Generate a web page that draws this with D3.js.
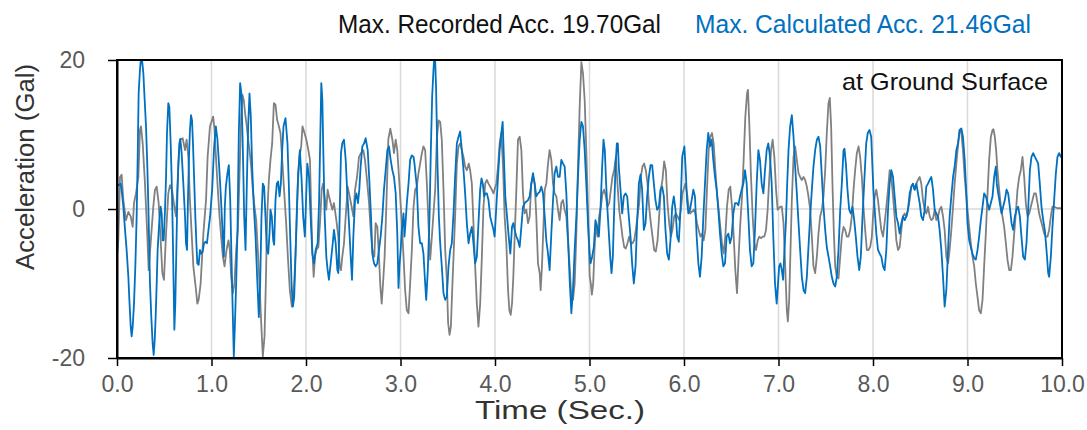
<!DOCTYPE html>
<html>
<head>
<meta charset="utf-8">
<script src="https://cdn.jsdelivr.net/npm/d3@7"></script>
<style>
  html, body { margin: 0; padding: 0; background: #fff; }
  svg { display: block; }
</style>
</head>
<body>
<div id="chart"></div>
<script>
// [time (s), acceleration (Gal)]
const recordedAcc = [
  [0.000,-6.4],[0.014,-4.2],[0.032,4.3],[0.049,4.6],[0.067,1.2],[0.095,-1.5],[0.120,-0.4],[0.145,-1.0],[0.166,-2.4],[0.180,0.8],[0.201,2.1],[0.226,4.3],[0.243,10.6],[0.254,11.1],[0.272,8.8],[0.296,3.4],[0.321,-3.7],[0.335,-8.2],[0.356,-4.6],[0.384,0.3],[0.402,2.6],[0.420,3.0],[0.441,0.8],[0.462,-4.2],[0.480,-8.6],[0.497,-9.5],[0.519,-3.3],[0.543,2.1],[0.561,3.2],[0.582,2.6],[0.607,0.3],[0.624,-1.0],[0.649,5.7],[0.667,9.3],[0.695,9.5],[0.720,7.9],[0.737,9.3],[0.755,7.0],[0.772,1.2],[0.790,-3.3],[0.808,-7.7],[0.836,-10.9],[0.850,-12.7],[0.864,-12.2],[0.885,-10.0],[0.914,-3.3],[0.942,1.2],[0.959,7.0],[0.984,11.1],
  [1.018,12.4],[1.032,10.6],[1.049,6.6],[1.067,2.6],[1.085,-1.0],[1.102,-3.7],[1.120,-6.4],[1.138,-7.7],[1.159,-5.5],[1.180,-4.2],[1.194,-5.5],[1.208,-9.1],[1.226,-11.3],[1.243,-10.0],[1.261,-5.5],[1.279,-2.8],[1.296,4.3],[1.314,12.4],[1.328,15.3],[1.342,14.6],[1.356,12.8],[1.370,11.5],[1.384,9.7],[1.402,7.9],[1.420,5.7],[1.437,2.6],[1.455,0.3],[1.473,-1.5],[1.490,-5.5],[1.508,-10.0],[1.526,-15.3],[1.543,-19.8],[1.561,-17.1],[1.575,-10.0],[1.589,-1.0],[1.607,3.9],[1.624,6.6],[1.642,8.8],[1.660,14.2],[1.677,14.0],[1.695,11.9],[1.709,11.3],[1.730,10.2],[1.751,6.1],[1.772,1.7],[1.790,-1.9],[1.808,-6.4],[1.829,-10.9],[1.850,-13.1],[1.864,-12.7],[1.878,-9.1],[1.896,-3.7],[1.914,3.4],[1.931,7.0],[1.949,8.4],[1.963,11.1],[1.984,10.2],
  [2.004,9.3],[2.025,7.9],[2.042,6.6],[2.053,0.8],[2.067,-5.5],[2.081,-9.1],[2.095,-6.4],[2.109,-5.5],[2.131,-5.1],[2.148,-1.9],[2.166,2.6],[2.180,3.4],[2.201,1.2],[2.215,-0.1],[2.229,2.6],[2.243,1.7],[2.261,0.8],[2.279,-0.1],[2.296,0.8],[2.321,-1.5],[2.342,-3.7],[2.356,-7.7],[2.370,-8.2],[2.384,-6.4],[2.402,-4.6],[2.420,-1.0],[2.441,3.0],[2.462,1.7],[2.483,0.3],[2.501,-1.0],[2.519,2.6],[2.540,4.3],[2.561,7.0],[2.582,7.5],[2.607,7.9],[2.624,6.6],[2.649,3.4],[2.667,0.8],[2.684,-2.8],[2.702,-5.5],[2.723,-6.4],[2.737,-1.9],[2.755,-2.4],[2.772,-6.4],[2.787,-10.4],[2.801,-12.7],[2.815,-10.0],[2.832,-6.4],[2.850,0.3],[2.871,9.3],[2.892,10.8],[2.914,9.3],[2.931,7.5],[2.949,9.3],[2.966,7.9],[2.984,4.3],
  [3.014,-1.9],[3.032,-6.4],[3.049,-10.9],[3.067,-13.6],[3.085,-14.0],[3.102,-10.0],[3.120,-5.5],[3.138,0.3],[3.155,2.6],[3.173,3.0],[3.190,4.8],[3.208,6.1],[3.226,7.5],[3.243,8.4],[3.261,7.9],[3.279,3.4],[3.296,-1.9],[3.314,-6.8],[3.332,-3.7],[3.349,-0.6],[3.367,2.6],[3.384,9.3],[3.402,11.9],[3.420,11.7],[3.437,9.3],[3.455,2.6],[3.473,-5.5],[3.490,-9.5],[3.504,-15.3],[3.519,-16.9],[3.533,-15.8],[3.547,-10.9],[3.561,-6.4],[3.578,-1.0],[3.596,6.1],[3.614,8.4],[3.631,8.8],[3.649,7.9],[3.667,7.0],[3.684,5.7],[3.702,5.2],[3.723,6.1],[3.737,5.2],[3.755,3.4],[3.772,-1.9],[3.790,-7.7],[3.808,-12.7],[3.825,-15.8],[3.843,-12.7],[3.861,-6.4],[3.878,0.3],[3.896,3.4],[3.914,3.9],[3.931,3.4],[3.949,3.0],[3.966,2.6],[3.984,2.1],
  [4.014,3.4],[4.032,5.7],[4.049,8.8],[4.067,10.2],[4.085,5.7],[4.102,-1.0],[4.120,-4.6],[4.138,-10.9],[4.152,-13.6],[4.166,-14.2],[4.180,-12.7],[4.194,-9.1],[4.208,-3.7],[4.226,2.6],[4.243,9.3],[4.261,9.7],[4.279,7.9],[4.296,2.1],[4.314,-0.6],[4.332,-0.1],[4.349,-1.9],[4.367,-1.0],[4.384,3.4],[4.402,4.3],[4.420,3.4],[4.437,-1.0],[4.455,-7.3],[4.473,-8.6],[4.483,-10.9],[4.497,-7.7],[4.511,-2.8],[4.526,2.6],[4.543,3.4],[4.561,6.1],[4.578,7.9],[4.596,6.6],[4.614,3.4],[4.631,2.1],[4.649,1.7],[4.667,-0.1],[4.684,-1.5],[4.702,0.8],[4.720,1.2],[4.737,-0.1],[4.755,-1.0],[4.772,-4.2],[4.790,-7.7],[4.808,-11.8],[4.825,-12.2],[4.843,-10.0],[4.861,-3.3],[4.878,5.7],[4.896,13.7],[4.914,19.7],[4.931,18.2],[4.949,14.6],[4.966,7.9],[4.984,-0.1],
  [5.002,-9.1],[5.014,-10.0],[5.025,-11.5],[5.039,-10.0],[5.053,-5.5],[5.067,-1.9],[5.085,-3.7],[5.102,-1.0],[5.120,0.3],[5.138,2.1],[5.155,2.6],[5.173,1.7],[5.190,0.3],[5.208,0.8],[5.226,2.6],[5.243,4.3],[5.261,5.2],[5.279,7.0],[5.296,3.4],[5.314,-0.1],[5.332,-1.9],[5.349,-3.7],[5.367,-5.1],[5.384,-5.3],[5.402,-4.6],[5.420,-3.7],[5.437,-4.6],[5.455,-4.6],[5.473,-4.2],[5.490,-2.8],[5.508,-1.0],[5.526,0.8],[5.543,4.3],[5.561,5.7],[5.578,6.1],[5.596,5.2],[5.614,3.4],[5.631,0.3],[5.649,-1.9],[5.667,-3.7],[5.684,-5.5],[5.702,-5.7],[5.720,-4.2],[5.737,-1.0],[5.755,2.6],[5.772,3.9],[5.790,6.4],[5.808,5.2],[5.825,0.8],[5.843,-1.9],[5.861,-3.7],[5.878,-2.8],[5.896,-1.0],[5.914,-0.6],[5.931,-1.0],[5.949,-1.5],[5.966,-0.1],[5.984,2.1],
  [6.014,3.4],[6.032,2.1],[6.049,0.3],[6.067,-0.6],[6.102,-0.1],[6.120,-0.6],[6.138,-1.9],[6.155,-2.8],[6.173,-3.7],[6.190,-3.3],[6.208,-4.2],[6.226,-2.8],[6.243,2.6],[6.261,7.9],[6.279,9.7],[6.296,10.2],[6.314,8.8],[6.332,5.2],[6.349,2.1],[6.367,-0.1],[6.384,-2.4],[6.402,-4.6],[6.420,-6.0],[6.437,-3.7],[6.455,0.3],[6.473,2.6],[6.490,3.0],[6.508,0.3],[6.526,-3.7],[6.543,-8.2],[6.561,-11.3],[6.578,-6.4],[6.596,-1.9],[6.614,1.7],[6.631,6.6],[6.649,12.4],[6.667,15.5],[6.677,16.0],[6.691,11.5],[6.709,4.3],[6.727,-1.0],[6.744,-4.6],[6.762,-5.5],[6.780,-4.2],[6.797,-3.7],[6.815,-3.9],[6.832,-3.7],[6.850,-3.7],[6.868,-2.8],[6.885,-0.1],[6.903,4.3],[6.921,7.9],[6.938,9.3],[6.956,7.0],[6.974,2.6],[6.991,-0.1],
  [7.018,0.3],[7.035,0.3],[7.053,-1.9],[7.071,-7.7],[7.088,-13.6],[7.099,-15.1],[7.113,-12.2],[7.127,-5.5],[7.141,1.2],[7.159,7.0],[7.176,8.4],[7.194,6.6],[7.212,4.8],[7.229,4.3],[7.247,3.9],[7.265,4.3],[7.282,3.9],[7.300,3.0],[7.317,1.7],[7.335,-0.1],[7.353,-3.7],[7.370,-7.7],[7.388,-8.6],[7.406,-6.4],[7.423,-3.3],[7.441,-1.0],[7.459,-0.1],[7.476,1.7],[7.494,5.2],[7.511,10.2],[7.529,14.2],[7.543,14.9],[7.557,11.1],[7.571,3.4],[7.586,-3.3],[7.600,-7.7],[7.617,-9.1],[7.635,-9.3],[7.653,-6.4],[7.670,-3.7],[7.688,-2.4],[7.705,-2.8],[7.723,-3.7],[7.741,-3.7],[7.758,-2.8],[7.776,-1.0],[7.794,2.6],[7.811,5.2],[7.829,7.5],[7.847,8.4],[7.864,7.0],[7.882,4.3],[7.899,0.3],[7.917,-2.8],[7.935,-5.5],[7.952,-5.5],[7.970,-5.1],[7.988,-3.7],
  [8.000,-1.0],[8.018,1.7],[8.035,2.6],[8.053,1.2],[8.071,-1.0],[8.088,-2.8],[8.106,-3.7],[8.123,-1.9],[8.141,0.3],[8.159,2.6],[8.176,5.2],[8.194,4.3],[8.212,1.7],[8.229,-1.0],[8.247,-4.2],[8.265,-5.5],[8.282,-5.1],[8.300,-2.8],[8.317,-1.0],[8.335,-0.6],[8.353,-1.0],[8.370,-0.1],[8.388,1.2],[8.406,3.0],[8.423,3.4],[8.441,2.6],[8.459,3.4],[8.476,3.9],[8.494,4.3],[8.511,3.4],[8.529,1.2],[8.547,-0.1],[8.564,-0.6],[8.582,0.3],[8.600,-1.0],[8.617,-1.5],[8.635,-1.3],[8.653,-0.1],[8.670,-1.5],[8.688,-1.0],[8.705,-0.1],[8.723,0.3],[8.741,-1.0],[8.758,-2.8],[8.776,-6.4],[8.794,-7.3],[8.811,-5.5],[8.829,-2.8],[8.847,0.3],[8.864,3.4],[8.882,6.1],[8.899,8.4],[8.917,10.6],[8.935,10.2],[8.952,7.9],[8.970,4.3],[8.988,1.7],
  [9.000,-0.1],[9.018,-2.4],[9.035,-4.6],[9.053,-6.4],[9.071,-7.7],[9.088,-10.0],[9.106,-11.8],[9.123,-13.6],[9.141,-14.0],[9.159,-12.2],[9.176,-7.7],[9.194,-3.3],[9.212,2.1],[9.229,6.6],[9.247,9.7],[9.265,10.6],[9.275,10.7],[9.289,9.7],[9.303,7.9],[9.317,5.2],[9.335,2.6],[9.353,0.3],[9.370,-1.0],[9.388,-2.4],[9.406,-4.6],[9.423,-6.8],[9.441,-8.2],[9.459,-8.2],[9.476,-6.4],[9.494,-3.3],[9.511,-0.6],[9.529,2.6],[9.547,4.3],[9.564,5.2],[9.582,7.0],[9.600,4.3],[9.617,0.8],[9.635,-1.0],[9.653,-0.6],[9.670,0.3],[9.688,1.2],[9.705,2.1],[9.723,2.1],[9.741,0.8],[9.758,-0.6],[9.776,-1.5],[9.794,-2.4],[9.811,-3.3],[9.829,-3.7],[9.847,-3.7],[9.864,-2.8],[9.882,-1.0],[9.899,0.3],[9.917,0.3],[9.952,0.1],[10.000,0.1]
];

const calculatedAcc = [
  [0.000,3.4],[0.021,3.2],[0.039,3.4],[0.053,2.1],[0.067,0.3],[0.085,-2.8],[0.102,-5.5],[0.120,-9.1],[0.131,-12.2],[0.145,-15.8],[0.155,-17.1],[0.166,-15.8],[0.180,-12.7],[0.194,-7.7],[0.208,-1.0],[0.219,7.0],[0.229,15.5],[0.243,18.7],[0.258,20.9],[0.279,18.2],[0.293,14.6],[0.307,11.1],[0.321,5.7],[0.332,0.3],[0.349,-10.0],[0.363,-14.5],[0.377,-18.0],[0.388,-19.6],[0.399,-17.6],[0.409,-14.5],[0.420,-10.0],[0.430,-5.5],[0.444,-2.4],[0.455,-0.6],[0.462,0.3],[0.473,-0.6],[0.483,-4.2],[0.494,-4.2],[0.508,-0.1],[0.519,4.3],[0.529,10.2],[0.543,14.2],[0.554,13.7],[0.568,8.8],[0.578,4.3],[0.589,-2.4],[0.600,-10.9],[0.607,-16.2],[0.617,-12.7],[0.628,-5.5],[0.638,1.2],[0.649,6.1],[0.660,8.8],[0.670,9.4],[0.684,7.5],[0.702,3.4],[0.720,-1.0],[0.730,-4.6],[0.741,-5.5],[0.751,1.2],[0.762,7.0],[0.772,10.6],[0.783,12.6],[0.794,11.9],[0.804,8.8],[0.818,3.4],[0.829,-1.0],[0.840,-4.6],[0.850,-7.3],[0.864,-7.5],[0.878,-5.5],[0.892,-6.0],[0.907,-5.7],[0.921,-4.6],[0.938,-4.4],[0.952,-4.6],[0.966,-3.0],[0.985,-1.0],
  [1.007,2.6],[1.028,8.4],[1.046,11.1],[1.063,9.3],[1.081,5.7],[1.099,1.7],[1.116,-2.8],[1.131,-6.4],[1.141,0.3],[1.152,3.0],[1.169,4.8],[1.183,5.9],[1.198,1.2],[1.212,-6.8],[1.226,-14.5],[1.236,-19.8],[1.247,-15.8],[1.261,-10.0],[1.275,-2.8],[1.289,10.2],[1.303,16.9],[1.317,15.5],[1.332,7.9],[1.346,-1.0],[1.360,-5.5],[1.374,3.4],[1.388,11.1],[1.402,15.5],[1.416,12.4],[1.430,5.7],[1.448,0.3],[1.466,-3.7],[1.483,-9.1],[1.501,-14.5],[1.515,-10.0],[1.529,-1.0],[1.543,3.4],[1.557,3.0],[1.571,-1.0],[1.586,-5.5],[1.600,-6.0],[1.614,-3.3],[1.624,-0.1],[1.638,-1.0],[1.653,-4.2],[1.663,-4.8],[1.677,1.2],[1.691,3.4],[1.705,3.7],[1.720,1.7],[1.734,3.4],[1.748,7.9],[1.762,11.1],[1.783,12.2],[1.804,8.8],[1.818,3.4],[1.832,-3.3],[1.847,-10.0],[1.861,-13.1],[1.875,-11.8],[1.889,-6.4],[1.903,-0.1],[1.917,4.8],[1.935,7.9],[1.952,4.3],[1.970,-1.0],[1.988,-3.7],
  [2.000,1.0],[2.014,6.1],[2.032,4.3],[2.049,-1.0],[2.067,-6.0],[2.085,-7.3],[2.102,-5.5],[2.123,-4.6],[2.138,0.8],[2.152,10.2],[2.162,16.9],[2.173,14.6],[2.183,7.9],[2.198,-1.0],[2.215,-6.4],[2.229,-8.2],[2.243,-9.5],[2.261,-7.3],[2.279,-5.1],[2.296,-2.8],[2.314,-4.6],[2.332,-8.2],[2.342,-8.6],[2.356,-1.0],[2.370,7.5],[2.384,8.8],[2.402,9.3],[2.420,6.6],[2.437,2.1],[2.455,-1.9],[2.473,-6.4],[2.487,-9.5],[2.501,-3.7],[2.519,1.2],[2.533,2.1],[2.550,0.8],[2.564,2.6],[2.578,5.7],[2.596,8.4],[2.614,8.8],[2.631,9.5],[2.653,7.9],[2.670,3.9],[2.688,-1.0],[2.702,-6.0],[2.720,-7.3],[2.737,-7.7],[2.755,-7.3],[2.772,-5.5],[2.790,-3.7],[2.808,-1.0],[2.825,2.6],[2.843,5.2],[2.861,7.9],[2.878,8.4],[2.896,6.6],[2.914,5.2],[2.931,4.3],[2.949,2.1],[2.966,-3.3],[2.979,-10.6],[2.989,-7.7],
  [3.004,-5.1],[3.014,-2.8],[3.032,-0.6],[3.042,-3.7],[3.053,-1.9],[3.067,0.8],[3.085,3.4],[3.102,6.6],[3.120,7.2],[3.138,7.0],[3.148,6.1],[3.162,4.3],[3.173,3.0],[3.190,-2.4],[3.208,-4.6],[3.226,-4.6],[3.243,-6.0],[3.261,-10.0],[3.272,-12.2],[3.289,-8.2],[3.307,-1.0],[3.321,7.9],[3.335,15.1],[3.349,18.7],[3.363,21.46],[3.377,16.0],[3.392,5.7],[3.406,-1.0],[3.420,-4.6],[3.437,-7.7],[3.455,-11.3],[3.473,-12.2],[3.490,-11.8],[3.508,-7.7],[3.526,-5.5],[3.543,-4.6],[3.561,-0.6],[3.578,4.3],[3.596,8.8],[3.614,9.7],[3.631,10.4],[3.649,7.9],[3.667,5.2],[3.684,2.1],[3.702,-1.9],[3.720,-4.6],[3.737,-3.3],[3.755,-2.4],[3.772,-4.6],[3.790,-7.3],[3.808,-6.4],[3.825,-1.9],[3.843,2.6],[3.857,4.1],[3.871,3.4],[3.885,1.7],[3.899,2.1],[3.914,2.1],[3.931,1.2],[3.949,-1.0],[3.966,-1.9],[3.984,-2.8],[3.996,-3.7],
  [4.014,0.3],[4.032,4.3],[4.049,7.9],[4.067,10.2],[4.081,11.7],[4.095,6.6],[4.109,1.7],[4.127,-1.0],[4.145,-3.7],[4.162,-6.0],[4.180,-2.4],[4.194,-1.9],[4.208,-2.8],[4.226,-3.7],[4.243,-4.2],[4.261,-5.1],[4.279,-2.4],[4.296,0.3],[4.314,0.8],[4.332,1.0],[4.349,1.2],[4.367,1.7],[4.384,3.4],[4.402,4.8],[4.420,3.4],[4.437,1.7],[4.455,2.1],[4.473,2.3],[4.490,3.0],[4.508,2.1],[4.526,-1.0],[4.543,-4.2],[4.561,-6.0],[4.578,-8.2],[4.596,-3.3],[4.614,1.2],[4.631,4.8],[4.649,5.7],[4.667,4.3],[4.684,4.3],[4.702,6.6],[4.720,6.1],[4.737,5.7],[4.755,2.1],[4.772,-3.7],[4.790,-9.5],[4.808,-14.0],[4.825,-10.9],[4.843,-5.5],[4.861,-1.0],[4.878,4.3],[4.896,9.3],[4.914,11.7],[4.931,11.1],[4.949,7.9],[4.966,3.4],[4.984,-1.9],
  [5.002,-6.0],[5.011,-7.3],[5.028,-6.4],[5.046,-5.1],[5.063,-1.5],[5.081,-2.4],[5.099,-3.7],[5.116,-0.1],[5.134,5.7],[5.148,9.3],[5.162,7.9],[5.176,3.4],[5.190,-0.1],[5.205,-3.3],[5.219,-6.4],[5.233,-8.6],[5.247,-6.4],[5.261,-0.1],[5.275,5.7],[5.289,8.8],[5.300,8.8],[5.310,5.7],[5.328,2.6],[5.346,-0.6],[5.363,1.7],[5.381,2.1],[5.399,1.7],[5.416,-1.0],[5.434,-3.7],[5.451,-7.3],[5.469,-10.0],[5.487,-7.7],[5.504,-1.9],[5.522,3.4],[5.540,4.6],[5.557,2.6],[5.575,-2.8],[5.593,-1.9],[5.610,1.7],[5.628,4.3],[5.646,5.9],[5.663,5.9],[5.681,3.4],[5.698,1.2],[5.716,-0.1],[5.734,0.3],[5.751,2.6],[5.769,3.0],[5.787,1.7],[5.804,-2.8],[5.822,-6.0],[5.840,-6.8],[5.857,-4.2],[5.875,0.3],[5.892,1.7],[5.910,-0.1],[5.928,-3.7],[5.945,-4.4],[5.963,-0.1],[5.981,7.0],
  [6.004,8.4],[6.018,5.2],[6.032,1.2],[6.046,-0.6],[6.063,-0.1],[6.081,1.2],[6.099,2.6],[6.116,1.7],[6.134,-3.7],[6.152,-7.3],[6.169,-9.1],[6.187,-6.4],[6.205,-1.0],[6.222,3.4],[6.240,7.9],[6.257,10.2],[6.275,8.4],[6.293,9.3],[6.310,6.6],[6.328,4.3],[6.346,2.6],[6.363,-0.1],[6.381,-3.3],[6.399,-6.0],[6.416,-7.7],[6.434,-7.3],[6.451,-3.7],[6.469,-3.3],[6.487,-4.6],[6.504,-3.7],[6.522,-0.6],[6.540,0.8],[6.557,0.8],[6.575,0.5],[6.593,1.7],[6.610,2.6],[6.628,3.4],[6.646,5.2],[6.663,3.4],[6.681,-1.0],[6.698,-5.5],[6.716,-7.7],[6.734,-7.3],[6.751,-2.8],[6.769,3.4],[6.787,7.9],[6.804,6.6],[6.822,3.4],[6.840,2.1],[6.857,5.2],[6.875,7.9],[6.892,8.8],[6.910,7.0],[6.928,3.4],[6.945,-3.7],[6.963,-10.0],[6.981,-12.7],
  [7.007,-7.7],[7.021,-7.3],[7.035,-8.2],[7.049,-9.5],[7.063,-5.5],[7.078,-1.9],[7.092,3.4],[7.106,7.9],[7.123,11.1],[7.141,12.6],[7.159,9.7],[7.176,5.7],[7.194,2.1],[7.212,-1.9],[7.229,-5.5],[7.247,-9.1],[7.265,-10.9],[7.282,-11.3],[7.300,-9.1],[7.317,-5.1],[7.335,-1.0],[7.353,2.6],[7.370,5.7],[7.388,7.9],[7.406,9.3],[7.423,9.7],[7.441,8.4],[7.459,4.3],[7.476,0.3],[7.494,-2.8],[7.511,-5.1],[7.529,-6.4],[7.547,-7.7],[7.564,-9.1],[7.582,-10.0],[7.600,-10.4],[7.617,-9.1],[7.635,-5.5],[7.653,-0.1],[7.670,3.4],[7.688,7.9],[7.698,8.1],[7.713,6.1],[7.730,2.6],[7.748,-0.1],[7.765,-0.6],[7.783,0.3],[7.801,-1.5],[7.818,-3.7],[7.836,-6.4],[7.854,-8.2],[7.871,-6.4],[7.889,-1.0],[7.910,4.3],[7.928,8.8],[7.945,10.2],[7.963,10.6],[7.981,9.7],
  [8.004,2.6],[8.018,-0.1],[8.035,-3.3],[8.053,-5.5],[8.071,-6.0],[8.088,-6.4],[8.106,-7.7],[8.123,-8.2],[8.141,-5.5],[8.159,-0.1],[8.176,3.4],[8.194,5.2],[8.212,4.3],[8.229,1.7],[8.247,-1.0],[8.265,-1.9],[8.282,-3.3],[8.300,-1.9],[8.317,-1.0],[8.335,-1.5],[8.353,-1.0],[8.370,-0.1],[8.388,2.1],[8.406,3.0],[8.423,3.4],[8.441,2.6],[8.459,3.4],[8.476,2.1],[8.494,0.8],[8.511,-1.0],[8.529,-1.5],[8.547,-0.1],[8.564,3.0],[8.582,3.4],[8.600,3.9],[8.617,4.3],[8.635,2.6],[8.653,-0.1],[8.670,-0.6],[8.688,-1.0],[8.705,-2.8],[8.723,-5.5],[8.741,-9.1],[8.758,-13.1],[8.776,-10.9],[8.794,-5.5],[8.811,-1.0],[8.829,1.7],[8.847,4.3],[8.864,5.7],[8.882,7.9],[8.899,8.8],[8.917,10.6],[8.935,10.8],[8.952,9.7],[8.970,6.6],[8.988,2.0],
  [9.000,-1.9],[9.018,-4.2],[9.035,-5.1],[9.053,-6.0],[9.071,-6.6],[9.088,-6.8],[9.106,-5.5],[9.123,-3.7],[9.141,-1.5],[9.159,0.3],[9.176,2.1],[9.194,1.7],[9.212,0.8],[9.229,-0.1],[9.247,0.8],[9.265,1.7],[9.282,4.3],[9.300,5.7],[9.310,3.4],[9.325,2.1],[9.342,0.8],[9.360,-0.6],[9.377,0.3],[9.395,1.2],[9.413,2.6],[9.430,2.1],[9.448,0.3],[9.466,-1.9],[9.483,-2.8],[9.501,-1.0],[9.519,-0.1],[9.536,0.3],[9.554,-1.0],[9.571,-3.7],[9.589,-6.4],[9.607,-6.8],[9.624,-4.6],[9.642,-0.1],[9.660,5.2],[9.677,7.0],[9.695,7.5],[9.713,7.0],[9.730,6.6],[9.748,6.1],[9.765,3.4],[9.783,0.3],[9.801,-1.5],[9.818,-2.8],[9.836,-5.5],[9.854,-8.6],[9.864,-9.1],[9.882,-6.4],[9.899,-2.4],[9.917,1.2],[9.935,4.8],[9.952,7.0],[9.970,7.5],[9.988,7.0],[10.000,7.0]
];

const xTicks = [0, 1, 2, 3, 4, 5, 6, 7, 8, 9, 10];
const yTicks = [-20, 0, 20];
const recordedTitle = "Max. Recorded Acc. 19.70Gal";
const calculatedTitle = "Max. Calculated Acc. 21.46Gal";
const locationLabel = "at Ground Surface";

const W = 1087, H = 430;
const margin = { top: 60, right: 25, bottom: 72, left: 117 };
const width = W - margin.left - margin.right;
const height = H - margin.top - margin.bottom;
const font = '"Liberation Sans", Arial, sans-serif';

const svg = d3.select("#chart").append("svg")
  .attr("width", W)
  .attr("height", H)
  .attr("font-family", font);

svg.append("defs").append("clipPath")
  .attr("id", "plot-clip")
  .append("rect")
  .attr("width", width)
  .attr("height", height);

const g = svg.append("g")
  .attr("transform", `translate(${margin.left},${margin.top})`);

const x = d3.scaleLinear().domain([0, 10]).range([0, width]);
const y = d3.scaleLinear().domain([-20, 20]).range([height, 0]);

// Gridlines
g.append("g")
  .selectAll("line")
  .data(xTicks.slice(1, -1))
  .join("line")
  .attr("x1", (d) => x(d)).attr("x2", (d) => x(d))
  .attr("y1", 0).attr("y2", height)
  .attr("stroke", "#d9d9d9")
  .attr("stroke-width", 1.5);

g.append("line")
  .attr("x1", 0).attr("x2", width)
  .attr("y1", y(0)).attr("y2", y(0))
  .attr("stroke", "#d9d9d9")
  .attr("stroke-width", 1.5);

// Series
const line = d3.line()
  .x((d) => x(d[0]))
  .y((d) => y(d[1]));

const plot = g.append("g").attr("clip-path", "url(#plot-clip)");

plot.append("path")
  .datum(recordedAcc)
  .attr("fill", "none")
  .attr("stroke", "#808080")
  .attr("stroke-width", 1.8)
  .attr("stroke-linejoin", "round")
  .attr("d", line);

plot.append("path")
  .datum(calculatedAcc)
  .attr("fill", "none")
  .attr("stroke", "#0070c0")
  .attr("stroke-width", 1.8)
  .attr("stroke-linejoin", "round")
  .attr("d", line);

// Frame
g.append("rect")
  .attr("width", width).attr("height", height)
  .attr("fill", "none")
  .attr("stroke", "#000")
  .attr("stroke-width", 2);

// X axis
g.append("g")
  .attr("transform", `translate(0,${height})`)
  .call(d3.axisBottom(x).tickValues(xTicks).tickSize(8).tickSizeOuter(0).tickPadding(10).tickFormat(d3.format(".1f")))
  .call((a) => a.select(".domain").attr("stroke", "#000").attr("stroke-width", 2))
  .call((a) => a.selectAll(".tick line").attr("stroke", "#000").attr("stroke-width", 1.5))
  .selectAll("text")
  .attr("fill", "#595959")
  .attr("font-family", font)
  .attr("font-size", "23px");

// Y axis
g.append("g")
  .call(d3.axisLeft(y).tickValues(yTicks).tickSize(9).tickSizeOuter(0).tickPadding(23).tickFormat((d) => String(d)))
  .call((a) => a.select(".domain").attr("stroke", "#000").attr("stroke-width", 2))
  .call((a) => a.selectAll(".tick line").attr("stroke", "#000").attr("stroke-width", 1.5))
  .selectAll("text")
  .attr("fill", "#595959")
  .attr("font-family", font)
  .attr("font-size", "23px");

// Titles
svg.append("text")
  .attr("x", 338).attr("y", 33)
  .attr("font-size", "25px")
  .attr("fill", "#111")
  .attr("textLength", 323).attr("lengthAdjust", "spacingAndGlyphs")
  .text(recordedTitle);

svg.append("text")
  .attr("x", 695).attr("y", 33)
  .attr("font-size", "25px")
  .attr("fill", "#0070c0")
  .attr("textLength", 336).attr("lengthAdjust", "spacingAndGlyphs")
  .text(calculatedTitle);

svg.append("text")
  .attr("x", 842).attr("y", 90)
  .attr("font-size", "24px")
  .attr("fill", "#111")
  .attr("textLength", 206).attr("lengthAdjust", "spacingAndGlyphs")
  .text(locationLabel);

// Axis titles
svg.append("text")
  .attr("x", 560).attr("y", 419)
  .attr("text-anchor", "middle")
  .attr("font-size", "26px")
  .attr("fill", "#333")
  .attr("textLength", 170).attr("lengthAdjust", "spacingAndGlyphs")
  .text("Time (Sec.)");

svg.append("text")
  .attr("transform", "translate(34,167) rotate(-90)")
  .attr("text-anchor", "middle")
  .attr("font-size", "25px")
  .attr("fill", "#333")
  .attr("textLength", 206).attr("lengthAdjust", "spacingAndGlyphs")
  .text("Acceleration (Gal)");
</script>
</body>
</html>
